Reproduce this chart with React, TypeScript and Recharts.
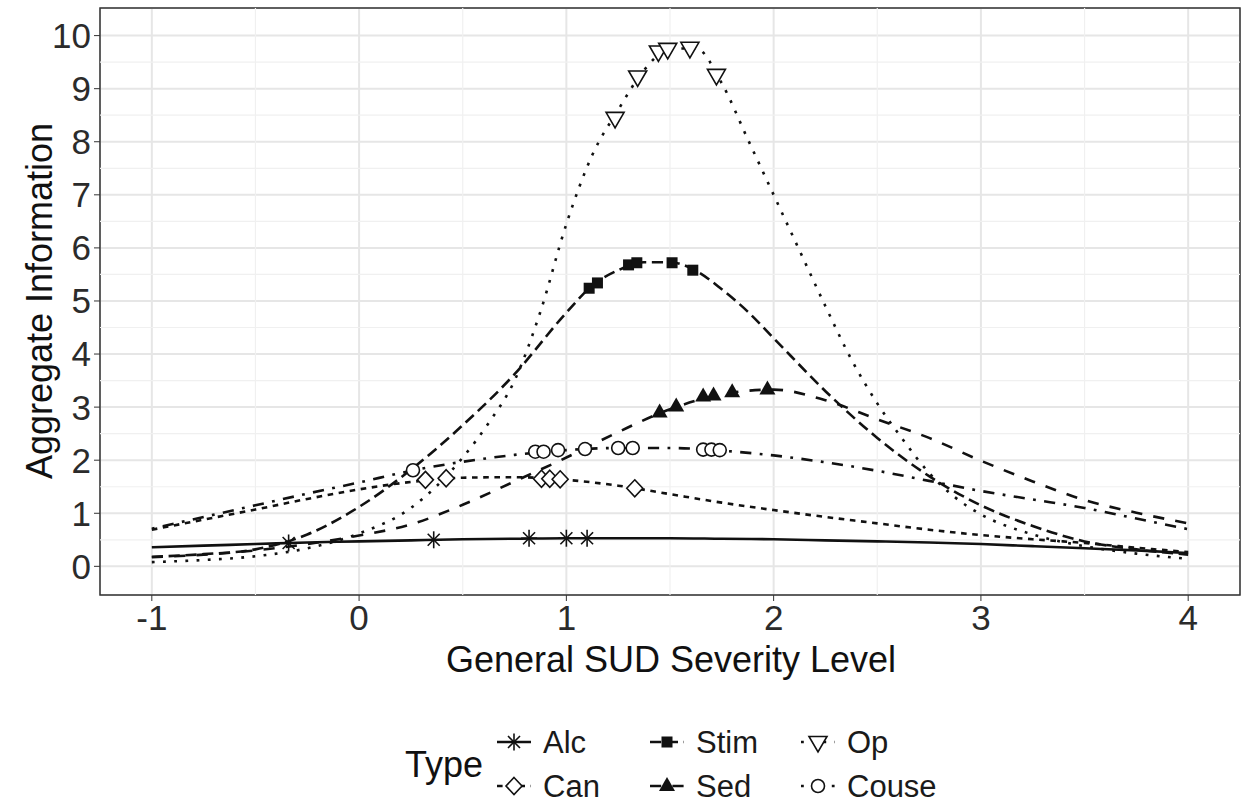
import React from "react";
import {
  CartesianGrid,
  ComposedChart,
  Line,
  ReferenceArea,
  ReferenceLine,
  Scatter,
  XAxis,
  YAxis,
} from "recharts";

// information curves
const THETA = [-1, -0.75, -0.5, -0.25, 0, 0.25, 0.5, 0.75, 1, 1.25, 1.5, 1.75, 2, 2.25, 2.5, 2.75, 3, 3.25, 3.5, 3.75, 4];
const ALC = [0.36, 0.39, 0.42, 0.45, 0.47, 0.49, 0.51, 0.52, 0.53, 0.53, 0.53, 0.52, 0.51, 0.49, 0.47, 0.45, 0.42, 0.38, 0.34, 0.3, 0.25];
const CAN = [0.69, 0.88, 1.07, 1.27, 1.45, 1.59, 1.67, 1.68, 1.63, 1.52, 1.36, 1.2, 1.06, 0.93, 0.81, 0.69, 0.59, 0.51, 0.44, 0.35, 0.27];
const SED = [0.17, 0.22, 0.3, 0.42, 0.58, 0.79, 1.16, 1.6, 2.05, 2.53, 2.96, 3.24, 3.33, 3.13, 2.77, 2.42, 1.99, 1.6, 1.25, 1.01, 0.81];
const COUSE = [0.71, 0.93, 1.15, 1.37, 1.58, 1.8, 1.97, 2.1, 2.19, 2.23, 2.23, 2.18, 2.09, 1.96, 1.8, 1.61, 1.42, 1.26, 1.1, 0.9, 0.7];

const STIM_THETA = [-1, -0.75, -0.5, -0.25, 0, 0.25, 0.5, 0.75, 1, 1.125, 1.25, 1.375, 1.5, 1.625, 1.75, 1.875, 2, 2.25, 2.5, 2.75, 3, 3.25, 3.5, 3.75, 4];
const STIM = [0.18, 0.23, 0.32, 0.6, 1.12, 1.82, 2.66, 3.62, 4.78, 5.29, 5.58, 5.73, 5.73, 5.57, 5.22, 4.8, 4.3, 3.3, 2.42, 1.7, 1.15, 0.76, 0.47, 0.32, 0.22];

const OP_THETA = [-1, -0.75, -0.5, -0.25, 0, 0.25, 0.5, 0.625, 0.75, 0.875, 1, 1.125, 1.25, 1.375, 1.5, 1.625, 1.75, 1.875, 2, 2.125, 2.25, 2.375, 2.5, 2.625, 2.75, 2.875, 3, 3.25, 3.5, 3.75, 4];
const OP = [0.08, 0.12, 0.19, 0.34, 0.62, 1.1, 2.05, 2.7, 3.5, 4.8, 6.45, 7.75, 8.6, 9.35, 9.75, 9.76, 9.1, 8.05, 7.0, 5.95, 4.9, 3.9, 3.07, 2.38, 1.76, 1.3, 0.98, 0.6, 0.38, 0.24, 0.14];

// item locations (markers)
const ALC_AT = [-0.34, 0.36, 0.82, 1.0, 1.1];
const ALC_AT_INFO = [0.44, 0.5, 0.53, 0.53, 0.53];
const CAN_AT = [0.32, 0.42, 0.88, 0.92, 0.97, 1.33];
const CAN_AT_INFO = [1.63, 1.66, 1.65, 1.65, 1.64, 1.47];
const STIM_AT = [1.11, 1.15, 1.3, 1.34, 1.51, 1.61];
const STIM_AT_INFO = [5.24, 5.34, 5.68, 5.72, 5.72, 5.58];
const SED_AT = [1.45, 1.53, 1.66, 1.71, 1.8, 1.97];
const SED_AT_INFO = [2.9, 3.01, 3.2, 3.22, 3.28, 3.33];
const OP_AT = [1.235, 1.344, 1.444, 1.489, 1.596, 1.724];
const OP_AT_INFO = [8.45, 9.23, 9.7, 9.75, 9.77, 9.26];
const COUSE_AT = [0.26, 0.85, 0.89, 0.96, 1.09, 1.25, 1.32, 1.66, 1.7, 1.74];
const COUSE_AT_INFO = [1.81, 2.16, 2.16, 2.19, 2.21, 2.23, 2.23, 2.2, 2.2, 2.19];

const X_TICKS = [-1, 0, 1, 2, 3, 4];
const Y_TICKS = [0, 1, 2, 3, 4, 5, 6, 7, 8, 9, 10];
const X_MINOR = [-0.5, 0.5, 1.5, 2.5, 3.5];
const Y_MINOR = [0.5, 1.5, 2.5, 3.5, 4.5, 5.5, 6.5, 7.5, 8.5, 9.5];
const X_DOMAIN: [number, number] = [-1.25, 4.25];
const Y_DOMAIN: [number, number] = [-0.54, 10.52];

const W = 1248;
const H = 804;
const FONT = '"Liberation Sans", Arial, Helvetica, sans-serif';
const INK = "#111";
const U = 2.8; // ggplot linetype unit, px

type Shape = "asterisk" | "diamond" | "square" | "triUp" | "triDown" | "circle";

// ggplot hex linetype -> svg dasharray
const dash = (hex?: string) =>
  hex ? hex.split("").map((d) => parseInt(d, 16) * U).join(" ") : undefined;

const zip = (xs: number[], ys: number[]) => xs.map((x, i) => ({ x, y: ys[i] }));

const SERIES: { name: string; lty?: string; shape: Shape; curve: { x: number; y: number }[]; items: { x: number; y: number }[] }[] = [
  { name: "Alc", shape: "asterisk", curve: zip(THETA, ALC), items: zip(ALC_AT, ALC_AT_INFO) },
  { name: "Can", lty: "22", shape: "diamond", curve: zip(THETA, CAN), items: zip(CAN_AT, CAN_AT_INFO) },
  { name: "Stim", lty: "42", shape: "square", curve: zip(STIM_THETA, STIM), items: zip(STIM_AT, STIM_AT_INFO) },
  { name: "Sed", lty: "44", shape: "triUp", curve: zip(THETA, SED), items: zip(SED_AT, SED_AT_INFO) },
  { name: "Op", lty: "13", shape: "triDown", curve: zip(OP_THETA, OP), items: zip(OP_AT, OP_AT_INFO) },
  { name: "Couse", lty: "1343", shape: "circle", curve: zip(THETA, COUSE), items: zip(COUSE_AT, COUSE_AT_INFO) },
];

function Marker({ kind, cx, cy }: { kind: Shape; cx: number; cy: number }) {
  const sw = 1.6;
  switch (kind) {
    case "asterisk":
      return (
        <g stroke={INK} strokeWidth={sw}>
          <line x1={cx} y1={cy - 8.5} x2={cx} y2={cy + 8.5} />
          <line x1={cx - 8} y1={cy} x2={cx + 8} y2={cy} />
          <line x1={cx - 6} y1={cy - 6} x2={cx + 6} y2={cy + 6} />
          <line x1={cx - 6} y1={cy + 6} x2={cx + 6} y2={cy - 6} />
        </g>
      );
    case "diamond":
      return (
        <polygon
          points={`${cx},${cy - 8.5} ${cx + 8},${cy} ${cx},${cy + 8.5} ${cx - 8},${cy}`}
          fill="white"
          stroke={INK}
          strokeWidth={sw}
        />
      );
    case "square":
      return <rect x={cx - 5.5} y={cy - 5.5} width={11} height={11} fill={INK} />;
    case "triUp":
      return <polygon points={`${cx},${cy - 9} ${cx + 8},${cy + 5} ${cx - 8},${cy + 5}`} fill={INK} />;
    case "triDown":
      return (
        <polygon
          points={`${cx - 9},${cy - 5.5} ${cx + 9},${cy - 5.5} ${cx},${cy + 10}`}
          fill="white"
          stroke={INK}
          strokeWidth={sw}
        />
      );
    default:
      return <circle cx={cx} cy={cy} r={6.5} fill="white" stroke={INK} strokeWidth={sw} />;
  }
}

// legend placement follows ggplot's 2-row layout
const LEGEND_COLS = [497, 650, 801];
const LEGEND_ROWS = [742, 786];

function LegendItem({ s, i }: { s: (typeof SERIES)[number]; i: number }) {
  const col = Math.floor(i / 2);
  const row = i % 2;
  const left = LEGEND_COLS[col];
  const cy = LEGEND_ROWS[row];
  return (
    <>
      <svg width={34} height={30} style={{ position: "absolute", left, top: cy - 15 }}>
        <line x1={0} y1={15} x2={34} y2={15} stroke={INK} strokeWidth={2.6} strokeDasharray={dash(s.lty)} />
        <Marker kind={s.shape} cx={17} cy={15} />
      </svg>
      <div
        style={{
          position: "absolute",
          left: left + 46,
          top: cy,
          transform: "translateY(-50%)",
          fontSize: 31,
          lineHeight: 1,
          color: "#1a1a1a",
        }}
      >
        {s.name}
      </div>
    </>
  );
}

export default function App() {
  const tick = { fill: "#2b2b2b", fontSize: 35, fontFamily: FONT };
  return (
    <div style={{ position: "absolute", left: 0, top: 0, width: W, height: H, background: "#fff", fontFamily: FONT }}>
      <ComposedChart width={W} height={H} margin={{ top: 8, right: 8, bottom: 0, left: 0 }}>
        <CartesianGrid stroke="#e6e6e6" strokeWidth={2} />
        {X_MINOR.map((v) => (
          <ReferenceLine key={`xm${v}`} x={v} stroke="#f0f0f0" strokeWidth={1.2} />
        ))}
        {Y_MINOR.map((v) => (
          <ReferenceLine key={`ym${v}`} y={v} stroke="#f0f0f0" strokeWidth={1.2} />
        ))}
        <XAxis
          type="number"
          dataKey="x"
          domain={X_DOMAIN}
          ticks={X_TICKS}
          interval={0}
          allowDataOverflow
          height={209}
          tickSize={6}
          tickMargin={4}
          axisLine={false}
          tickLine={{ stroke: "#333" }}
          tick={tick}
        />
        <YAxis
          type="number"
          dataKey="y"
          domain={Y_DOMAIN}
          ticks={Y_TICKS}
          interval={0}
          allowDataOverflow
          width={100}
          tickSize={6}
          tickMargin={3}
          axisLine={false}
          tickLine={{ stroke: "#333" }}
          tick={tick}
        />
        {SERIES.map((s) => (
          <Line
            key={`l${s.name}`}
            data={s.curve}
            dataKey="y"
            type="monotone"
            stroke={INK}
            strokeWidth={2.6}
            strokeDasharray={dash(s.lty)}
            strokeLinecap="butt"
            dot={false}
            activeDot={false}
            isAnimationActive={false}
          />
        ))}
        {SERIES.map((s) => (
          <Scatter
            key={`p${s.name}`}
            data={s.items}
            dataKey="y"
            isAnimationActive={false}
            shape={(p: any) => <Marker kind={s.shape} cx={p.cx} cy={p.cy} />}
          />
        ))}
        <ReferenceArea
          x1={X_DOMAIN[0]}
          x2={X_DOMAIN[1]}
          y1={Y_DOMAIN[0]}
          y2={Y_DOMAIN[1]}
          fill="none"
          stroke="#333"
          strokeWidth={1.5}
          ifOverflow="visible"
        />
      </ComposedChart>

      <div
        style={{
          position: "absolute",
          left: 40,
          top: 301,
          transform: "translate(-50%, -50%) rotate(-90deg)",
          whiteSpace: "nowrap",
          fontSize: 36,
          lineHeight: 1,
          color: "#111",
        }}
      >
        Aggregate Information
      </div>
      <div
        style={{
          position: "absolute",
          left: 671,
          top: 660,
          transform: "translate(-50%, -50%)",
          whiteSpace: "nowrap",
          fontSize: 36,
          lineHeight: 1,
          color: "#111",
        }}
      >
        General SUD Severity Level
      </div>

      <div
        style={{
          position: "absolute",
          left: 405,
          top: 765,
          transform: "translateY(-50%)",
          fontSize: 36,
          lineHeight: 1,
          color: "#111",
        }}
      >
        Type
      </div>
      {SERIES.map((s, i) => (
        <LegendItem key={s.name} s={s} i={i} />
      ))}
    </div>
  );
}
